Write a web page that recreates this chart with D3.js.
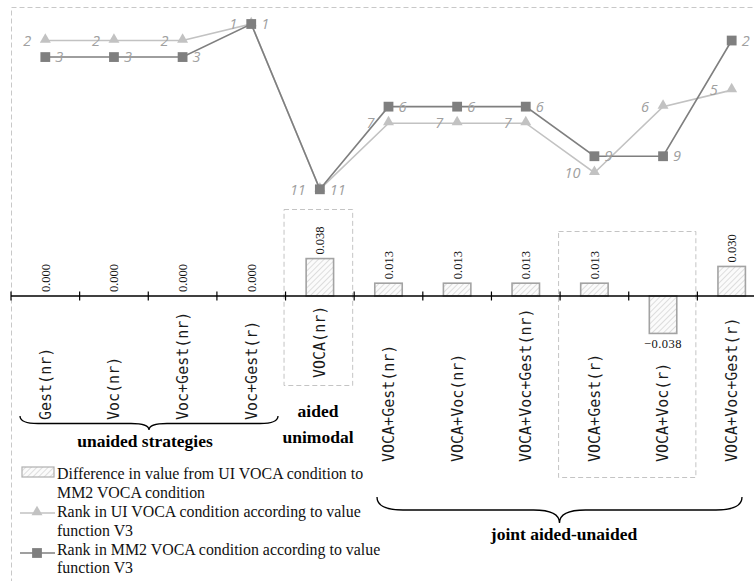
<!DOCTYPE html>
<html>
<head>
<meta charset="utf-8">
<script src="https://cdn.jsdelivr.net/npm/d3@7"></script>
<style>
  html, body { margin: 0; padding: 0; background: #fff; }
  svg { display: block; }
</style>
</head>
<body>
<div id="chart"></div>
<script>
// Communication strategies, in display order
const categories = [
  "Gest(nr)", "Voc(nr)", "Voc+Gest(nr)", "Voc+Gest(r)",
  "VOCA(nr)",
  "VOCA+Gest(nr)", "VOCA+Voc(nr)", "VOCA+Voc+Gest(nr)",
  "VOCA+Gest(r)", "VOCA+Voc(r)", "VOCA+Voc+Gest(r)"
];
// Difference in value from UI VOCA condition to MM2 VOCA condition
const diffValues = [0.000, 0.000, 0.000, 0.000, 0.038, 0.013, 0.013, 0.013, 0.013, -0.038, 0.030];
// Rank according to value function V3
const rankUI  = [2, 2, 2, 1, 11, 7, 7, 7, 10, 6, 5];
const rankMM2 = [3, 3, 3, 1, 11, 6, 6, 6, 9, 9, 2];
// Strategy groups
const groupOf = ["unaided", "unaided", "unaided", "unaided", "aided",
                 "joint", "joint", "joint", "joint", "joint", "joint"];
const legendTexts = [
  ["Difference in value from UI VOCA condition to", "MM2 VOCA condition"],
  ["Rank in UI VOCA condition according to value", "function V3"],
  ["Rank in MM2 VOCA condition according to value", "function V3"]
];

const W = 754, H = 581;
const serif = "'Liberation Serif', 'Times New Roman', serif";
const mono = "'DejaVu Sans Mono', 'Liberation Mono', monospace";
const italicSans = "'Open Sans', 'Noto Sans', sans-serif";
const lightGrey = "#c2c2c2", darkGrey = "#7f7f7f", labelGrey = "#a0a0a0";

const svg = d3.select("#chart").append("svg")
  .attr("width", W).attr("height", H);

// hatch pattern for the difference bars
const defs = svg.append("defs");
const pat = defs.append("pattern")
  .attr("id", "hatch").attr("patternUnits", "userSpaceOnUse")
  .attr("width", 4).attr("height", 4)
  .attr("patternTransform", "rotate(45)");
pat.append("rect").attr("width", 4).attr("height", 4).attr("fill", "#fbfbfb");
pat.append("line").attr("x1", 0).attr("y1", 0).attr("x2", 0).attr("y2", 4)
  .attr("stroke", "#c9c9c9").attr("stroke-width", 1.2);

// outer dashed frame
svg.append("rect")
  .attr("x", 11.5).attr("y", 7.5).attr("width", 800).attr("height", 700)
  .attr("fill", "none").attr("stroke", "#c8c8c8")
  .attr("stroke-dasharray", "5,3").attr("stroke-width", 1);

// scales
const x = d3.scaleBand().domain(categories).range([11, 766]).padding(0);
const bw = x.bandwidth();
const cx = c => x(c) + bw / 2;
const yBar = d3.scaleLinear().domain([-0.04, 0.04]).range([335.4, 256.6]);
const yRank = d3.scaleLinear().domain([1, 11]).range([24, 189.3]);
const y0 = yBar(0);

// dashed highlight boxes
svg.append("rect")
  .attr("x", x("VOCA(nr)") - 1.5).attr("y", 209.5)
  .attr("width", bw).attr("height", 176)
  .attr("fill", "none").attr("stroke", "#c4c4c4")
  .attr("stroke-dasharray", "5,3");
svg.append("rect")
  .attr("x", x("VOCA+Gest(r)") - 1.5).attr("y", 231.5)
  .attr("width", bw * 2).attr("height", 246)
  .attr("fill", "none").attr("stroke", "#c4c4c4")
  .attr("stroke-dasharray", "5,3");

// bars
const barW = bw * 0.4;
const bars = categories.map((c, i) => ({ c, v: diffValues[i] }));
svg.append("g").selectAll("rect").data(bars).join("rect")
  .attr("x", d => cx(d.c) - barW / 2)
  .attr("y", d => Math.min(yBar(d.v), y0))
  .attr("width", barW)
  .attr("height", d => Math.abs(yBar(d.v) - y0))
  .attr("fill", "url(#hatch)")
  .attr("stroke", "#a3a3a3").attr("stroke-width", 1.6)
  .attr("display", d => d.v === 0 ? "none" : null);

// bar value labels
const fmt = d3.format(".3f");
svg.append("g").selectAll("text").data(bars.filter(d => d.v >= 0)).join("text")
  .attr("transform", d => `translate(${cx(d.c)},${yBar(d.v) - 4}) rotate(-90)`)
  .attr("dy", "0.35em")
  .attr("font-family", serif).attr("font-size", 12.5).attr("fill", "#111")
  .text(d => fmt(d.v));
svg.append("g").selectAll("text").data(bars.filter(d => d.v < 0)).join("text")
  .attr("x", d => cx(d.c)).attr("y", d => yBar(d.v) + 15)
  .attr("text-anchor", "middle")
  .attr("font-family", serif).attr("font-size", 12.5).attr("fill", "#111")
  .attr("letter-spacing", "0.5px")
  .text(d => fmt(d.v));

// category axis
const axis = d3.axisBottom(x).tickSize(0).tickFormat("");
const gAxis = svg.append("g").attr("transform", `translate(0,${y0})`).call(axis);
gAxis.select(".domain").attr("stroke", "#000").attr("stroke-width", 1.3)
  .attr("d", `M11,0H${W}`);
svg.append("g").selectAll("line").data(categories).join("line")
  .attr("x1", c => x(c)).attr("x2", c => x(c))
  .attr("y1", y0 - 4.5).attr("y2", y0 + 4.5)
  .attr("stroke", "#000").attr("stroke-width", 1.2);

// rotated category labels, bottom-aligned per group
const labelBottom = { unaided: 420, aided: 378, joint: 462 };
svg.append("g").selectAll("text").data(categories).join("text")
  .attr("transform", (c, i) => `translate(${cx(c)},${labelBottom[groupOf[i]]}) rotate(-90)`)
  .attr("dy", "0.36em")
  .attr("font-family", mono).attr("font-size", 15).attr("fill", "#1a1a1a")
  .text(c => c);

// rank lines
const line = d3.line().x(d => cx(d.c)).y(d => yRank(d.r));
const uiPts = categories.map((c, i) => ({ c, r: rankUI[i] }));
const mmPts = categories.map((c, i) => ({ c, r: rankMM2[i] }));
const tri = d3.symbol().type(d3.symbolTriangle).size(52);
const sq = d3.symbol().type(d3.symbolSquare).size(96);

svg.append("path").datum(uiPts).attr("d", line)
  .attr("fill", "none").attr("stroke", lightGrey).attr("stroke-width", 1.6);
svg.append("g").selectAll("path").data(uiPts).join("path")
  .attr("d", tri).attr("transform", d => `translate(${cx(d.c)},${yRank(d.r) - 1})`)
  .attr("fill", lightGrey);

svg.append("path").datum(mmPts).attr("d", line)
  .attr("fill", "none").attr("stroke", darkGrey).attr("stroke-width", 1.6);
svg.append("g").selectAll("path").data(mmPts).join("path")
  .attr("d", sq).attr("transform", d => `translate(${cx(d.c)},${yRank(d.r)})`)
  .attr("fill", darkGrey);

// rank labels: UI to the left of each marker, MM2 to the right
svg.append("g").selectAll("text").data(uiPts).join("text")
  .attr("x", d => cx(d.c) - 14).attr("y", d => yRank(d.r))
  .attr("dy", "0.36em").attr("text-anchor", "end")
  .attr("font-family", italicSans).attr("font-style", "italic")
  .attr("font-size", 14.5).attr("fill", labelGrey)
  .text(d => d.r);
svg.append("g").selectAll("text").data(mmPts).join("text")
  .attr("x", d => cx(d.c) + 10).attr("y", d => yRank(d.r))
  .attr("dy", "0.36em").attr("text-anchor", "start")
  .attr("font-family", italicSans).attr("font-style", "italic")
  .attr("font-size", 14.5).attr("fill", labelGrey)
  .text(d => d.r);

// curly braces under the groups
function brace(x1, x2, yTop, yMid, yTip, r) {
  const m = (x1 + x2) / 2;
  return `M${x1},${yTop} Q${x1},${yMid} ${x1 + r},${yMid} L${m - r},${yMid} ` +
         `Q${m},${yMid} ${m},${yTip} Q${m},${yMid} ${m + r},${yMid} ` +
         `L${x2 - r},${yMid} Q${x2},${yMid} ${x2},${yTop}`;
}
svg.append("path").attr("d", brace(20, 278, 416, 423.5, 430, 18))
  .attr("fill", "none").attr("stroke", "#000").attr("stroke-width", 1.3);
svg.append("path").attr("d", brace(377, 742, 497, 510, 523, 26))
  .attr("fill", "none").attr("stroke", "#000").attr("stroke-width", 1.3);

// group titles
const titleStyle = s => s.attr("font-family", serif).attr("font-weight", "bold")
  .attr("font-size", 17.5).attr("fill", "#000").attr("text-anchor", "middle");
svg.append("text").attr("x", 145).attr("y", 447).call(titleStyle).text("unaided strategies");
svg.append("text").attr("x", 318).attr("y", 417).call(titleStyle).text("aided");
svg.append("text").attr("x", 318).attr("y", 443).call(titleStyle).text("unimodal");
svg.append("text").attr("x", 564).attr("y", 540).call(titleStyle).text("joint aided-unaided");

// legend
const lg = svg.append("g");
lg.append("rect").attr("x", 22).attr("y", 467).attr("width", 32).attr("height", 10)
  .attr("fill", "url(#hatch)").attr("stroke", "#b0b0b0").attr("stroke-width", 1.2);
lg.append("line").attr("x1", 20).attr("x2", 55).attr("y1", 513).attr("y2", 513)
  .attr("stroke", lightGrey).attr("stroke-width", 1.6);
lg.append("path").attr("d", tri).attr("transform", "translate(37,512)").attr("fill", lightGrey);
lg.append("line").attr("x1", 20).attr("x2", 55).attr("y1", 553).attr("y2", 553)
  .attr("stroke", darkGrey).attr("stroke-width", 1.6);
lg.append("path").attr("d", sq).attr("transform", "translate(37,553)").attr("fill", darkGrey);

const baselines = [[479, 498], [517, 536], [554.5, 573]];
legendTexts.forEach((lines, i) => {
  lines.forEach((t, j) => {
    lg.append("text").attr("x", 57).attr("y", baselines[i][j])
      .attr("font-family", serif).attr("font-size", 15.9).attr("fill", "#111")
      .text(t);
  });
});
</script>
</body>
</html>
